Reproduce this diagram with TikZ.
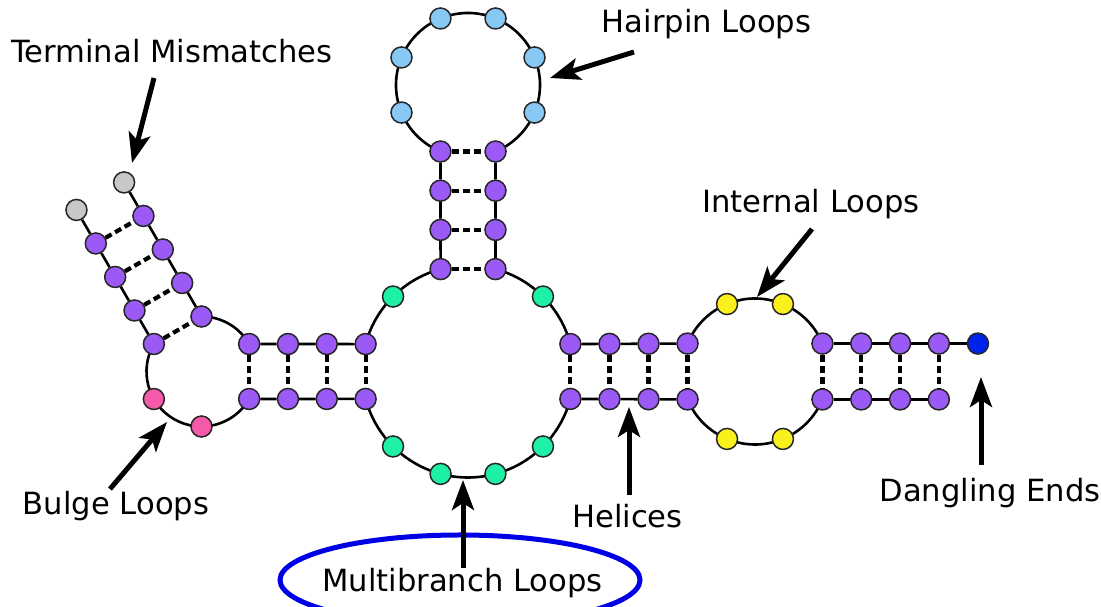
\documentclass[tikz,border=0pt]{standalone}
\usepackage{fontspec}
\setmainfont{DejaVu Sans}
\usetikzlibrary{arrows.meta,backgrounds,calc}
\definecolor{purp}{RGB}{155,89,245}
\definecolor{hpblue}{RGB}{135,200,245}
\definecolor{mgreen}{RGB}{30,240,165}
\definecolor{bpink}{RGB}{245,90,170}
\definecolor{iyellow}{RGB}{250,240,30}
\definecolor{tgray}{RGB}{200,200,200}
\definecolor{dblue}{RGB}{0,35,235}
\definecolor{ellblue}{RGB}{0,0,230}
\begin{document}
\begin{tikzpicture}[x=1pt,y=1pt,
  nt/.style={circle,draw=black!85,line width=1.5pt,minimum size=21pt,inner sep=0pt},
  pu/.style={nt,fill=purp},
  hb/.style={nt,fill=hpblue},
  gr/.style={nt,fill=mgreen},
  pk/.style={nt,fill=bpink},
  ye/.style={nt,fill=iyellow},
  gy/.style={nt,fill=tgray},
  db/.style={nt,fill=dblue},
  bb/.style={line width=2.6pt},
  bp/.style={line width=4.2pt,dash pattern=on 7pt off 4pt},
  arr/.style={line width=5pt,-{Stealth[length=30pt,width=22pt,inset=7pt]}},
  lbl/.style={font=\fontsize{30.6}{36}\selectfont,anchor=base,inner sep=0pt}]
\useasboundingbox (0,0) rectangle (1101,607);
% loop centres
\coordinate (cB) at (201.5,235.5);
\coordinate (cM) at (468,235.5);
\coordinate (cH) at (468,522);
\coordinate (cI) at (755,235.5);
% bulge loop
\node[pu] (b30) at ($(cB)+(30:55)$) {};
\node[pu] (b90) at ($(cB)+(90:55)$) {};
\node[pu] (b150) at ($(cB)+(150:55)$) {};
\node[pk] (b210) at ($(cB)+(210:55)$) {};
\node[pk] (b270) at ($(cB)+(270:55)$) {};
\node[pu] (b330) at ($(cB)+(330:55)$) {};
% multibranch loop
\node[pu] (m15) at ($(cM)+(15:106)$) {};
\node[gr] (m45) at ($(cM)+(45:106)$) {};
\node[pu] (m75) at ($(cM)+(75:106)$) {};
\node[pu] (m105) at ($(cM)+(105:106)$) {};
\node[gr] (m135) at ($(cM)+(135:106)$) {};
\node[pu] (m165) at ($(cM)+(165:106)$) {};
\node[pu] (m195) at ($(cM)+(195:106)$) {};
\node[gr] (m225) at ($(cM)+(225:106)$) {};
\node[gr] (m255) at ($(cM)+(255:106)$) {};
\node[gr] (m285) at ($(cM)+(285:106)$) {};
\node[gr] (m315) at ($(cM)+(315:106)$) {};
\node[pu] (m345) at ($(cM)+(345:106)$) {};
% hairpin loop
\node[pu] (h247) at ($(cH)+(247.5:72)$) {};
\node[pu] (h292) at ($(cH)+(292.5:72)$) {};
\node[hb] (h337) at ($(cH)+(337.5:72)$) {};
\node[hb] (h22) at ($(cH)+(22.5:72)$) {};
\node[hb] (h67) at ($(cH)+(67.5:72)$) {};
\node[hb] (h112) at ($(cH)+(112.5:72)$) {};
\node[hb] (h157) at ($(cH)+(157.5:72)$) {};
\node[hb] (h202) at ($(cH)+(202.5:72)$) {};
% internal loop
\node[pu] (i22) at ($(cI)+(22.5:73)$) {};
\node[ye] (i67) at ($(cI)+(67.5:73)$) {};
\node[ye] (i112) at ($(cI)+(112.5:73)$) {};
\node[pu] (i157) at ($(cI)+(157.5:73)$) {};
\node[pu] (i202) at ($(cI)+(202.5:73)$) {};
\node[ye] (i247) at ($(cI)+(247.5:73)$) {};
\node[ye] (i292) at ($(cI)+(292.5:73)$) {};
\node[pu] (i337) at ($(cI)+(337.5:73)$) {};
% left helix
\node[pu] (L2t) at ($(b30)!1/3!(m165)$) {};
\node[pu] (L3t) at ($(b30)!2/3!(m165)$) {};
\node[pu] (L2b) at ($(b330)!1/3!(m195)$) {};
\node[pu] (L3b) at ($(b330)!2/3!(m195)$) {};
% hairpin stem
\node[pu] (S2l) at ($(m105)!1/3!(h247)$) {};
\node[pu] (S3l) at ($(m105)!2/3!(h247)$) {};
\node[pu] (S2r) at ($(m75)!1/3!(h292)$) {};
\node[pu] (S3r) at ($(m75)!2/3!(h292)$) {};
% right helix 1
\node[pu] (R2t) at ($(m15)!1/3!(i157)$) {};
\node[pu] (R3t) at ($(m15)!2/3!(i157)$) {};
\node[pu] (R2b) at ($(m345)!1/3!(i202)$) {};
\node[pu] (R3b) at ($(m345)!2/3!(i202)$) {};
% right helix 2 and dangling end
\node[pu] (T2t) at ($(i22)+(38.8,0)$) {};
\node[pu] (T3t) at ($(i22)+(77.6,0)$) {};
\node[pu] (T4t) at ($(i22)+(116.4,0)$) {};
\node[pu] (T2b) at ($(i337)+(38.8,0)$) {};
\node[pu] (T3b) at ($(i337)+(77.6,0)$) {};
\node[pu] (T4b) at ($(i337)+(116.4,0)$) {};
\node[db] (dang) at ($(i22)+(155.5,0)$) {};
% terminal helix
\node[pu] (r1) at ($(b90)+(120:38.7)$) {};
\node[pu] (r2) at ($(b90)+(120:77.4)$) {};
\node[pu] (r3) at ($(b90)+(120:116.1)$) {};
\node[gy] (g1) at ($(b90)+(120:154.8)$) {};
\node[pu] (l1) at ($(b150)+(120:38.7)$) {};
\node[pu] (l2) at ($(b150)+(120:77.4)$) {};
\node[pu] (l3) at ($(b150)+(120:116.1)$) {};
\node[gy] (g2) at ($(b150)+(120:154.8)$) {};
% backbone arcs
\begin{pgfonlayer}{background}
\draw[bb] ($(cB)+(90:55)$) arc[start angle=90,end angle=30,radius=55];
\draw[bb] ($(cB)+(150:55)$) arc[start angle=150,end angle=330,radius=55];
\draw[bb] ($(cM)+(105:106)$) arc[start angle=105,end angle=165,radius=106];
\draw[bb] ($(cM)+(15:106)$) arc[start angle=15,end angle=75,radius=106];
\draw[bb] ($(cM)+(195:106)$) arc[start angle=195,end angle=345,radius=106];
\draw[bb] ($(cH)+(292.5:72)$) arc[start angle=292.5,end angle=607.5,radius=72];
\draw[bb] ($(cI)+(22.5:73)$) arc[start angle=22.5,end angle=157.5,radius=73];
\draw[bb] ($(cI)+(202.5:73)$) arc[start angle=202.5,end angle=337.5,radius=73];
\end{pgfonlayer}
% straight backbone
\draw[bb] (g1) -- (r3) -- (r2) -- (r1) -- (b90);
\draw[bb] (g2) -- (l3) -- (l2) -- (l1) -- (b150);
\draw[bb] (b30) -- (L2t) -- (L3t) -- (m165);
\draw[bb] (b330) -- (L2b) -- (L3b) -- (m195);
\draw[bb] (m105) -- (S2l) -- (S3l) -- (h247);
\draw[bb] (m75) -- (S2r) -- (S3r) -- (h292);
\draw[bb] (m15) -- (R2t) -- (R3t) -- (i157);
\draw[bb] (m345) -- (R2b) -- (R3b) -- (i202);
\draw[bb] (i22) -- (T2t) -- (T3t) -- (T4t) -- (dang);
\draw[bb] (i337) -- (T2b) -- (T3b) -- (T4b);
% base pairs
\foreach \a/\b in {l3/r3,l2/r2,l1/r1,b150/b90,
  b30/b330,L2t/L2b,L3t/L3b,m165/m195,
  m105/m75,S2l/S2r,S3l/S3r,h247/h292,
  m15/m345,R2t/R2b,R3t/R3b,i157/i202,
  i22/i337,T2t/T2b,T3t/T3b,T4t/T4b}
  \draw[bp] (\a) -- (\b);
% labels
\node[lbl] (tTM) at (172,544) {Terminal Mismatches};
\node[lbl] (tHP) at (706.5,574) {Hairpin Loops};
\node[lbl] (tIL) at (811,394) {Internal Loops};
\node[lbl] (tBL) at (116,92) {Bulge Loops};
\node[lbl] (tHE) at (627.5,79) {Helices};
\node[lbl] (tDE) at (990,105) {Dangling Ends};
\node[lbl] (tMB) at (462.5,15) {Multibranch Loops};
\coordinate (eMB) at (460,27);
\draw[ellblue,line width=5pt] (eMB) ellipse[x radius=180,y radius=45];
% arrows
\coordinate (aTM1) at (154,529); \coordinate (aTM2) at (132,444);
\coordinate (aHP1) at (634,555); \coordinate (aHP2) at (550,529);
\coordinate (aIL1) at (812,378); \coordinate (aIL2) at (757,310);
\coordinate (aBL1) at (110,118); \coordinate (aBL2) at (167,185);
\coordinate (aHE1) at (629,112); \coordinate (aHE2) at (629,200);
\coordinate (aDE1) at (981,142); \coordinate (aDE2) at (981,230);
\coordinate (aMB1) at (463,39); \coordinate (aMB2) at (463,127);
\draw[arr] (aTM1) -- (aTM2);
\draw[arr] (aHP1) -- (aHP2);
\draw[arr] (aIL1) -- (aIL2);
\draw[arr] (aBL1) -- (aBL2);
\draw[arr] (aHE1) -- (aHE2);
\draw[arr] (aDE1) -- (aDE2);
\draw[arr] (aMB1) -- (aMB2);
\end{tikzpicture}
\end{document}
